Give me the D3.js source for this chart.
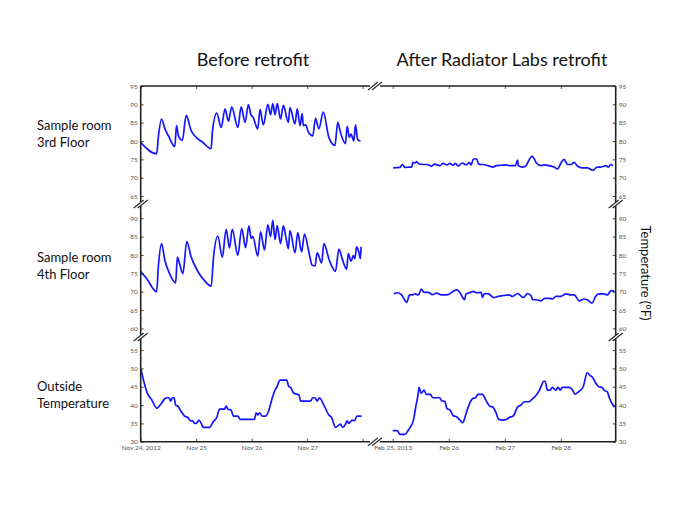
<!DOCTYPE html>
<html>
<head>
<meta charset="utf-8">
<script src="https://cdn.jsdelivr.net/npm/d3@7"></script>
<style>
  html, body { margin: 0; padding: 0; background: #fff; }
  text { font-family: Lato, "Open Sans", sans-serif; }
</style>
</head>
<body>
<div id="chart"></div>
<script>
// ---------------- data (day offset from start date, °F) ----------------
const rowLabels = [["Sample room", "3rd Floor"], ["Sample room", "4th Floor"], ["Outside", "Temperature"]];
const titles = ["Before retrofit", "After Radiator Labs retrofit"];
const yAxisTitle = "Temperature (°F)";

const beforeStart = new Date(2012, 10, 24);
const afterStart = new Date(2013, 1, 25);

const beforeTickLabels = ["Nov 24, 2012", "Nov 25", "Nov 26", "Nov 27", ""];
const afterTickLabels = ["Feb 25, 2013", "Feb 26", "Feb 27", "Feb 28"];

const ticks3rd = [65, 70, 75, 80, 85, 90, 95];
const ticks4th = [60, 65, 70, 75, 80, 85, 90];
const ticksOut = [30, 35, 40, 45, 50, 55];

const before3rd = [
  [0,79.6],[0.287,76.5],[0.32,81.4],[0.376,86.0],[0.436,83.3],[0.5,81.4],[0.615,78.5],[0.645,84.2],
  [0.68,81.4],[0.75,80.2],[0.82,87.0],[0.91,82.8],[1.0,81.0],[1.12,79.6],[1.27,77.9],[1.29,82.3],
  [1.37,87.6],[1.45,83.7],[1.52,88.8],[1.58,85.4],[1.64,89.3],[1.75,83.7],[1.81,89.3],[1.88,85.1],
  [1.94,89.9],[1.99,87.0],[2.02,86.6],[2.11,83.3],[2.15,88.6],[2.21,84.4],[2.29,90.0],[2.34,87.2],
  [2.38,90.2],[2.42,87.2],[2.46,90.2],[2.52,86.0],[2.57,89.7],[2.66,85.1],[2.69,89.1],[2.78,84.7],
  [2.82,88.8],[2.87,84.2],[2.91,87.5],[2.93,84.2],[2.97,84.4],[3.02,82.5],[3.10,81.4],[3.15,86.2],
  [3.21,83.3],[3.29,87.9],[3.39,81.0],[3.50,78.8],[3.55,85.1],[3.60,82.3],[3.69,79.3],[3.72,84.0],
  [3.76,81.0],[3.79,81.9],[3.84,80.0],[3.87,84.4],[3.91,80.4],[3.96,80.0]
];
const after3rd = [
  [0.01,72.7],[0.13,72.8],[0.17,73.6],[0.22,72.8],[0.31,72.9],[0.34,72.9],[0.36,74.2],[0.40,74.0],
  [0.43,74.4],[0.46,73.8],[0.54,73.6],[0.62,73.6],[0.69,73.1],[0.75,73.7],[0.84,73.3],[0.90,73.9],
  [0.97,73.5],[1.02,73.9],[1.08,73.4],[1.12,73.9],[1.17,73.2],[1.24,74.0],[1.31,73.5],[1.37,74.1],
  [1.40,73.5],[1.44,75.1],[1.50,75.1],[1.53,73.8],[1.57,73.6],[1.61,73.6],[1.70,73.3],[1.79,72.9],
  [1.85,73.3],[1.94,73.4],[2.02,73.5],[2.08,73.3],[2.19,73.3],[2.23,74.8],[2.24,73.3],[2.32,72.9],
  [2.38,73.3],[2.44,75.0],[2.49,75.9],[2.53,75.0],[2.57,73.9],[2.65,73.3],[2.70,73.5],[2.79,73.3],
  [2.88,72.9],[2.94,72.4],[3.00,73.9],[3.06,75.0],[3.12,73.6],[3.18,73.6],[3.24,74.2],[3.30,73.1],
  [3.38,72.7],[3.47,72.7],[3.57,72.0],[3.65,72.9],[3.71,72.9],[3.77,73.1],[3.80,73.3],[3.85,72.9],
  [3.89,73.6],[3.93,73.3]
];
const before4th = [
  [0,75.5],[0.11,73.5],[0.287,70.0],[0.32,77.2],[0.376,83.1],[0.436,78.5],[0.52,74.9],[0.63,72.4],
  [0.66,79.4],[0.70,77.6],[0.76,74.9],[0.83,83.6],[0.91,79.4],[1.03,75.5],[1.15,73.0],[1.27,71.5],
  [1.31,79.0],[1.39,85.1],[1.47,79.4],[1.54,87.0],[1.60,81.9],[1.65,87.0],[1.75,79.9],[1.82,87.2],
  [1.89,82.0],[1.95,87.9],[1.99,84.5],[2.02,85.0],[2.11,79.7],[2.16,86.3],[2.23,81.3],[2.29,88.2],
  [2.34,85.0],[2.38,89.4],[2.42,84.2],[2.46,88.0],[2.52,83.1],[2.57,87.9],[2.62,84.5],[2.66,81.7],
  [2.69,86.6],[2.78,80.6],[2.83,86.1],[2.90,80.8],[2.95,85.7],[3.03,80.8],[3.09,77.2],[3.14,77.0],
  [3.18,80.6],[3.26,77.8],[3.30,83.1],[3.40,78.5],[3.51,75.5],[3.57,81.6],[3.63,79.0],[3.71,76.1],
  [3.74,80.4],[3.79,78.3],[3.83,79.8],[3.86,79.0],[3.89,82.2],[3.93,80.8],[3.96,79.0],[3.97,82.2]
];
const after4th = [
  [0.02,69.4],[0.08,69.7],[0.16,69.1],[0.25,67.1],[0.30,69.1],[0.34,69.1],[0.40,69.4],[0.46,69.1],
  [0.51,70.7],[0.56,69.8],[0.63,69.8],[0.71,69.2],[0.78,69.6],[0.87,69.1],[0.99,69.2],[1.05,69.8],
  [1.14,70.5],[1.20,69.8],[1.25,68.4],[1.28,67.8],[1.31,69.4],[1.37,69.7],[1.44,70.1],[1.49,69.7],
  [1.58,69.8],[1.60,68.4],[1.64,69.5],[1.71,69.4],[1.80,68.4],[1.88,68.7],[1.96,68.9],[2.08,69.1],
  [2.14,68.7],[2.23,69.5],[2.33,68.4],[2.41,69.5],[2.47,68.9],[2.50,67.8],[2.56,67.8],[2.65,67.5],
  [2.71,68.2],[2.79,68.2],[2.85,68.0],[2.91,68.7],[3.00,68.7],[3.09,69.4],[3.18,69.1],[3.24,69.1],
  [3.33,67.5],[3.41,68.0],[3.47,67.8],[3.56,66.9],[3.62,68.7],[3.68,69.4],[3.77,69.4],[3.83,69.1],
  [3.90,70.3],[3.96,70.0]
];
const beforeOut = [
  [0,50],[0.05,46.8],[0.12,43.2],[0.20,41.4],[0.29,39.1],[0.35,40],[0.44,41.8],[0.48,42],[0.51,42],
  [0.54,41.1],[0.57,42],[0.60,42],[0.63,40],[0.67,39.7],[0.73,38.2],[0.79,37],[0.85,36.6],[0.90,35.7],
  [0.94,35.7],[0.97,35],[1.0,35],[1.05,35.9],[1.09,35],[1.13,33.9],[1.24,33.9],[1.31,35.5],[1.37,36.6],
  [1.42,38.9],[1.51,38.9],[1.54,39.7],[1.57,38.9],[1.63,38.6],[1.67,37],[1.75,37],[1.79,36.1],
  [2.05,36.1],[2.08,37.9],[2.11,37.3],[2.14,37.9],[2.19,37],[2.25,37],[2.31,38.6],[2.36,41.4],
  [2.42,44.1],[2.45,44.8],[2.51,46.8],[2.63,46.8],[2.67,45],[2.70,44.8],[2.76,43.2],[2.85,42.8],
  [2.88,41.1],[3.06,41.1],[3.10,42],[3.14,42],[3.18,41.1],[3.22,42],[3.30,40],[3.39,37.3],[3.44,36.6],
  [3.51,33.9],[3.60,34.8],[3.64,33.9],[3.69,34.8],[3.72,35.7],[3.75,35],[3.81,35.9],[3.85,35.7],
  [3.90,37],[3.98,37]
];
const afterOut = [
  [0,33],[0.08,33],[0.13,32],[0.22,32],[0.28,33.2],[0.32,34.1],[0.37,35.9],[0.41,39.4],[0.46,43.6],
  [0.47,44.8],[0.51,43.2],[0.56,44.1],[0.60,42.9],[0.67,42.9],[0.72,42],[0.84,42],[0.87,41.2],
  [0.93,41],[0.97,39],[1.02,38.7],[1.08,37.1],[1.14,36.8],[1.20,35.9],[1.25,35.2],[1.31,37.7],
  [1.36,40],[1.43,41.8],[1.48,42],[1.52,42.9],[1.60,42.9],[1.66,41.4],[1.73,39.7],[1.79,39.4],
  [1.85,37.7],[1.89,36.1],[1.96,35.9],[2.03,36.1],[2.08,36.6],[2.15,37],[2.23,39.5],[2.29,40],
  [2.35,40.9],[2.43,40.9],[2.50,41.8],[2.56,42.7],[2.62,44.1],[2.66,45.5],[2.69,46.5],[2.72,46.5],
  [2.76,44.1],[2.81,44.1],[2.85,44.8],[2.91,44.1],[2.95,44.8],[2.99,44.1],[3.03,44.8],[3.15,44.8],
  [3.21,44.1],[3.25,43],[3.33,43.8],[3.40,45],[3.47,48.8],[3.53,48],[3.56,47.7],[3.62,46.1],
  [3.68,45],[3.74,44.8],[3.77,44.1],[3.83,43.6],[3.87,41.8],[3.92,40.3],[3.96,39.4]
];

// ---------------- layout ----------------
const W = 700, H = 525;
const xLeft = 140.7, xRight = 615.7;
const yTop = 86, yBottom = 441.7;
const DAY = 86400000;
const toDate = (start, d) => new Date(start.getTime() + d * DAY);

const xB = d3.scaleTime().domain([beforeStart, toDate(beforeStart, 4)]).range([xLeft, 362.7]);
const xA = d3.scaleTime().domain([afterStart, toDate(afterStart, 3.98)]).range([392.7, xRight]);

const panels = [
  { y: d3.scaleLinear().domain([63.1, 95]).range([203, 86]), ticks: ticks3rd, before: before3rd, after: after3rd },
  { y: d3.scaleLinear().domain([58.2, 93.6]).range([335, 205]), ticks: ticks4th, before: before4th, after: after4th },
  { y: d3.scaleLinear().domain([30, 58.3]).range([441.7, 338]), ticks: ticksOut, before: beforeOut, after: afterOut }
];

const svg = d3.select("#chart").append("svg").attr("width", W).attr("height", H);

const blue = "#1414ff";
const axisColor = "#222";
const tickFont = 6.5;

panels.forEach((p, i) => {
  const lineB = d3.line().curve(d3.curveMonotoneX).x(d => xB(toDate(beforeStart, d[0]))).y(d => p.y(d[1]));
  const lineA = d3.line().curve(d3.curveMonotoneX).x(d => xA(toDate(afterStart, d[0]))).y(d => p.y(d[1]));
  svg.append("path").attr("d", lineB(p.before)).attr("fill", "none").attr("stroke", blue).attr("stroke-width", 1.7).attr("stroke-linejoin", "round");
  svg.append("path").attr("d", lineA(p.after)).attr("fill", "none").attr("stroke", blue).attr("stroke-width", 1.7).attr("stroke-linejoin", "round");

  const gl = svg.append("g").attr("transform", `translate(${xLeft},0)`)
    .call(d3.axisLeft(p.y).tickValues(p.ticks).tickSizeInner(-3).tickSizeOuter(0).tickPadding(3));
  const gr = svg.append("g").attr("transform", `translate(${xRight},0)`)
    .call(d3.axisRight(p.y).tickValues(p.ticks).tickSizeInner(-3).tickSizeOuter(0).tickPadding(3));
  [gl, gr].forEach(g => {
    g.select(".domain").remove();
    g.selectAll(".tick line").attr("stroke", axisColor).attr("stroke-width", 0.8);
    g.selectAll("text").attr("font-size", tickFont).attr("fill", "#555").attr("font-family", "Lato, sans-serif");
  });

  // row labels
  const t = svg.append("text").attr("x", 37).attr("font-size", 13).attr("fill", "#111");
  const base = [130, 262, 391][i];
  rowLabels[i].forEach((s, j) => t.append("tspan").attr("x", 37).attr("y", base + j * 16.5).text(s));
});

// x axes
const bTicks = d3.range(5).map(d => toDate(beforeStart, d));
const aTicks = d3.range(4).map(d => toDate(afterStart, d));
function styleX(g) {
  g.select(".domain").remove();
  g.selectAll(".tick line").attr("stroke", axisColor).attr("stroke-width", 0.8);
  g.selectAll("text").attr("font-size", tickFont).attr("fill", "#555").attr("font-family", "Lato, sans-serif");
}
svg.append("g").attr("transform", `translate(0,${yBottom})`)
  .call(d3.axisBottom(xB).tickValues(bTicks).tickFormat((d, i) => beforeTickLabels[i]).tickSizeInner(-3).tickSizeOuter(0).tickPadding(4)).call(styleX);
svg.append("g").attr("transform", `translate(0,${yBottom})`)
  .call(d3.axisBottom(xA).tickValues(aTicks).tickFormat((d, i) => afterTickLabels[i]).tickSizeInner(-3).tickSizeOuter(0).tickPadding(4)).call(styleX);
svg.append("g").attr("transform", `translate(0,${yTop})`)
  .call(d3.axisTop(xB).tickValues(bTicks).tickFormat("").tickSizeInner(-3).tickSizeOuter(0)).call(styleX);
svg.append("g").attr("transform", `translate(0,${yTop})`)
  .call(d3.axisTop(xA).tickValues(aTicks).tickFormat("").tickSizeInner(-3).tickSizeOuter(0)).call(styleX);

// frame lines
const frame = svg.append("g").attr("stroke", axisColor).attr("stroke-width", 1.6).attr("fill", "none");
frame.append("line").attr("x1", xLeft).attr("x2", xRight).attr("y1", yTop).attr("y2", yTop);
frame.append("line").attr("x1", xLeft).attr("x2", xRight).attr("y1", yBottom).attr("y2", yBottom);
frame.append("line").attr("x1", xLeft).attr("x2", xLeft).attr("y1", yTop).attr("y2", yBottom);
frame.append("line").attr("x1", xRight).attr("x2", xRight).attr("y1", yTop).attr("y2", yBottom);

// break marks
function breakMark(cx, cy) {
  const g = svg.append("g");
  g.append("rect").attr("x", cx - 5).attr("y", cy - 2).attr("width", 10).attr("height", 4).attr("fill", "#fff");
  [-2, 2].forEach(o => {
    g.append("line").attr("x1", cx + o - 5).attr("y1", cy + 4).attr("x2", cx + o + 5).attr("y2", cy - 4)
      .attr("stroke", axisColor).attr("stroke-width", 1.1);
  });
}
breakMark(xLeft, 204); breakMark(xLeft, 337);
breakMark(xRight, 204); breakMark(xRight, 337);
breakMark(375, yTop); breakMark(375, yBottom);

// titles
svg.append("text").attr("x", 253).attr("y", 66).attr("text-anchor", "middle").attr("font-size", 18).attr("fill", "#111").text(titles[0]);
svg.append("text").attr("x", 502).attr("y", 66).attr("text-anchor", "middle").attr("font-size", 18).attr("fill", "#111").text(titles[1]);

// right y-axis title
svg.append("text").attr("transform", "translate(641,273) rotate(90)").attr("text-anchor", "middle")
  .attr("font-size", 13).attr("fill", "#111").text(yAxisTitle);
</script>
</body>
</html>
